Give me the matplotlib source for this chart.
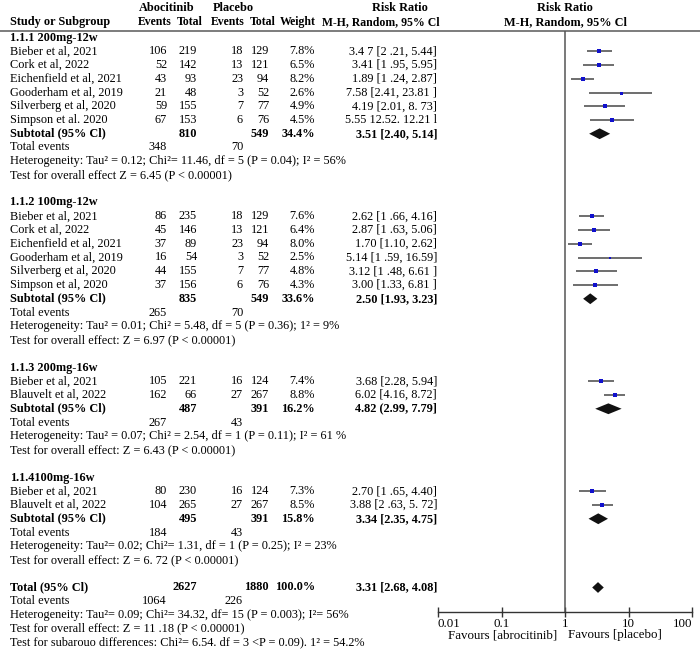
import matplotlib.pyplot as plt
import numpy as np

plt.rcParams['font.family'] = ['Liberation Serif', 'DejaVu Serif']
FS = 8.8

# ---- data ----
group_labels = ["1.1.1 200mg-12w", "1.1.2 100mg-12w", "1.1.3 200mg-16w", "1.1.4100mg-16w"]

g1_names = ["Bieber et al, 2021", "Cork et al, 2022", "Eichenfield et al, 2021",
            "Gooderham et al, 2019", "Silverberg et al, 2020", "Simpson et al. 2020"]
g1_ev_a = [106, 52, 43, 21, 59, 67]
g1_tot_a = [219, 142, 93, 48, 155, 153]
g1_ev_p = [18, 13, 23, 3, 7, 6]
g1_tot_p = [129, 121, 94, 52, 77, 76]
g1_weight = [7.8, 6.5, 8.2, 2.6, 4.9, 4.5]
g1_rr = [3.47, 3.41, 1.89, 7.58, 4.19, 5.55]
g1_lo = [2.21, 1.95, 1.24, 2.41, 2.01, 2.52]
g1_hi = [5.44, 5.95, 2.87, 23.81, 8.73, 12.21]
g1_rr_text = ["3.4 7 [2 .21, 5.44]", "3.41 [1 .95, 5.95]", "1.89 [1 .24, 2.87]",
              "7.58 [2.41, 23.81 ]", "4.19 [2.01, 8. 73]", "5.55 12.52. 12.21 l"]

g2_names = ["Bieber et al, 2021", "Cork et al, 2022", "Eichenfield et al, 2021",
            "Gooderham et al, 2019", "Silverberg et al, 2020", "Simpson et al, 2020"]
g2_ev_a = [86, 45, 37, 16, 44, 37]
g2_tot_a = [235, 146, 89, 54, 155, 156]
g2_ev_p = [18, 13, 23, 3, 7, 6]
g2_tot_p = [129, 121, 94, 52, 77, 76]
g2_weight = [7.6, 6.4, 8.0, 2.5, 4.8, 4.3]
g2_rr = [2.62, 2.87, 1.70, 5.14, 3.12, 3.00]
g2_lo = [1.66, 1.63, 1.10, 1.59, 1.48, 1.33]
g2_hi = [4.16, 5.06, 2.62, 16.59, 6.61, 6.81]
g2_rr_text = ["2.62 [1 .66, 4.16]", "2.87 [1 .63, 5.06]", "1.70 [1.10, 2.62]",
              "5.14 [1 .59, 16.59]", "3.12 [1 .48, 6.61 ]", "3.00 [1.33, 6.81 ]"]

g3_names = ["Bieber et al, 2021", "Blauvelt et al, 2022"]
g3_ev_a = [105, 162]
g3_tot_a = [221, 66]
g3_ev_p = [16, 27]
g3_tot_p = [124, 267]
g3_weight = [7.4, 8.8]
g3_rr = [3.68, 6.02]
g3_lo = [2.28, 4.16]
g3_hi = [5.94, 8.72]
g3_rr_text = ["3.68 [2.28, 5.94]", "6.02 [4.16, 8.72]"]

g4_names = ["Bieber et al, 2021", "Blauvelt et al, 2022"]
g4_ev_a = [80, 104]
g4_tot_a = [230, 265]
g4_ev_p = [16, 27]
g4_tot_p = [124, 267]
g4_weight = [7.3, 8.5]
g4_rr = [2.70, 3.88]
g4_lo = [1.65, 2.63]
g4_hi = [4.40, 5.72]
g4_rr_text = ["2.70 [1 .65, 4.40]", "3.88 [2 .63, 5. 72]"]

sub_tot_a = [810, 835, 487, 495]
sub_tot_p = [549, 549, 391, 391]
sub_weight = ["34.4%", "33.6%", "16.2%", "15.8%"]
sub_rr = [3.51, 2.50, 4.82, 3.34]
sub_lo = [2.40, 1.93, 2.99, 2.35]
sub_hi = [5.14, 3.23, 7.79, 4.75]
sub_rr_text = ["3.51 [2.40, 5.14]", "2.50 [1.93, 3.23]", "4.82 (2.99, 7.79]", "3.34 [2.35, 4.75]"]
sub_ev_a = [348, 265, 267, 184]
sub_ev_p = [70, 70, 43, 43]
het_text = [
    "Heterogeneity: Tau² = 0.12; Chi²= 11.46, df = 5 (P = 0.04); I² = 56%",
    "Heterogeneity: Tau² = 0.01; Chi² = 5.48, df = 5 (P = 0.36); 1² = 9%",
    "Heterogeneity: Tau² = 0.07; Chi² = 2.54, df = 1 (P = 0.11); I² = 61 %",
    "Heterogeneity: Tau²= 0.02; Chi²= 1.31, df = 1 (P = 0.25); I² = 23%",
]
effect_text = [
    "Test for overall effect Z = 6.45 (P < 0.00001)",
    "Test for overall effect: Z = 6.97 (P < 0.00001)",
    "Test for overall effect: Z = 6.43 (P < 0.00001)",
    "Test for overall effect: Z = 6. 72 (P < 0.00001)",
]

total_tot_a, total_tot_p, total_weight = 2627, 1880, "100.0%"
total_rr, total_lo, total_hi = 3.31, 2.68, 4.08
total_rr_text = "3.31 [2.68, 4.08]"
total_ev_a, total_ev_p = 1064, 226
total_lines = [
    "Heterogeneity: Tau²= 0.09; Chi²= 34.32, df= 15 (P = 0.003); I²= 56%",
    "Test for overall effect: Z = 11 .18 (P < 0.00001)",
    "Test for subarouo differences: Chi²= 6.54. df = 3 <P = 0.09). 1² = 54.2%",
]

ticks = [0.01, 0.1, 1, 10, 100]
tick_labels = ["0.01", "0.1", "1", "10", "100"]

groups = [
    (g1_names, g1_ev_a, g1_tot_a, g1_ev_p, g1_tot_p, g1_weight, g1_rr, g1_lo, g1_hi, g1_rr_text),
    (g2_names, g2_ev_a, g2_tot_a, g2_ev_p, g2_tot_p, g2_weight, g2_rr, g2_lo, g2_hi, g2_rr_text),
    (g3_names, g3_ev_a, g3_tot_a, g3_ev_p, g3_tot_p, g3_weight, g3_rr, g3_lo, g3_hi, g3_rr_text),
    (g4_names, g4_ev_a, g4_tot_a, g4_ev_p, g4_tot_p, g4_weight, g4_rr, g4_lo, g4_hi, g4_rr_text),
]

# ---- layout (pixel units) ----
W, H = 700, 651
Y0, ROW = 37.5, 13.75
X_NAME = 10
X_EVA, X_TOTA, X_EVP, X_TOTP, X_W, X_RR = 167, 197, 243, 269, 315, 437
PLOT_L, PLOT_R, PLOT_TOP, PLOT_BOT = 438, 692, 31, 612

fig = plt.figure(figsize=(W / 100, H / 100), dpi=100)
ax = fig.add_axes([0, 0, 1, 1])
ax.set_xlim(0, W)
ax.set_ylim(H, 0)
ax.axis('off')

axf = fig.add_axes([PLOT_L / W, 1 - PLOT_BOT / H, (PLOT_R - PLOT_L) / W, (PLOT_BOT - PLOT_TOP) / H])
axf.set_xscale('log')
axf.set_xlim(0.01, 100)
axf.set_ylim(PLOT_BOT, PLOT_TOP)
axf.patch.set_alpha(0)
for s in ['top', 'left', 'right']:
    axf.spines[s].set_visible(False)
axf.spines['bottom'].set_color('#333333')
axf.spines['bottom'].set_linewidth(1.0)
axf.set_yticks([])
axf.set_xticks(ticks)
axf.set_xticklabels(tick_labels, fontsize=FS + 0.5)
axf.minorticks_off()
axf.tick_params(axis='x', direction='inout', length=7, width=1, color='#333333', pad=1)
lbls = axf.get_xticklabels()
lbls[0].set_ha('left')
lbls[-1].set_ha('right')
axf.axvline(1, color='#555555', lw=1.1)


def txt(x, y, s, ha='left', bold=False, size=FS):
    ax.text(x, y, s, ha=ha, va='center', fontsize=size,
            fontweight='bold' if bold else 'normal', color='black')


def diamond(y, rr, lo, hi, h=5.4):
    axf.fill([lo, rr, hi, rr], [y, y - h, y, y + h], color='#111111', lw=0)


# header
HFS = FS - 0.3
txt(167, 8, "Abocitinib", 'center', True)
txt(233, 8, "Placebo", 'center', True)
txt(400, 8, "Risk Ratio", 'center', True)
txt(565, 8, "Risk Ratio", 'center', True)
txt(X_NAME, 22, "Study or Subgroup", bold=True)
for xc, s in zip([155, 190, 228, 263, 298], ["Events", "Total", "Events", "Total", "Weight"]):
    txt(xc, 22, s, 'center', True, size=HFS)
txt(X_RR + 3, 22, "M-H, Random, 95% Cl", 'right', True, size=HFS)
txt(565, 22, "M-H, Random, 95% Cl", 'center', True)
ax.plot([0, W], [31, 31], color='#666666', lw=1.2)

row = 0
for gi, (names, ev_a, tot_a, ev_p, tot_p, wt, rr, lo, hi, rtxt) in enumerate(groups):
    txt(X_NAME, Y0 + ROW * row, group_labels[gi], bold=True)
    row += 1
    for k in range(len(names)):
        y = Y0 + ROW * row
        txt(X_NAME, y, names[k])
        txt(X_EVA, y, str(ev_a[k]), 'right')
        txt(X_TOTA, y, str(tot_a[k]), 'right')
        txt(X_EVP, y, str(ev_p[k]), 'right')
        txt(X_TOTP, y, str(tot_p[k]), 'right')
        txt(X_W, y, f"{wt[k]:.1f}%", 'right')
        txt(X_RR, y, rtxt[k], 'right')
        axf.plot([lo[k], hi[k]], [y, y], color='#555555', lw=1.2, solid_capstyle='butt')
        axf.plot(rr[k], y, 's', color='#1010cc', ms=1.9 + 0.1 * wt[k], mew=0)
        row += 1
    y = Y0 + ROW * row
    txt(X_NAME, y, "Subtotal (95% Cl)", bold=True)
    txt(X_TOTA, y, str(sub_tot_a[gi]), 'right', True)
    txt(X_TOTP, y, str(sub_tot_p[gi]), 'right', True)
    txt(X_W, y, sub_weight[gi], 'right', True)
    txt(X_RR, y, sub_rr_text[gi], 'right', True)
    diamond(y, sub_rr[gi], sub_lo[gi], sub_hi[gi])
    row += 1
    y = Y0 + ROW * row
    txt(X_NAME, y, "Total events")
    txt(X_EVA, y, str(sub_ev_a[gi]), 'right')
    txt(X_EVP, y, str(sub_ev_p[gi]), 'right')
    row += 1
    txt(X_NAME, Y0 + ROW * row, het_text[gi])
    row += 1
    txt(X_NAME, Y0 + ROW * row, effect_text[gi])
    row += 2

y = Y0 + ROW * row
txt(X_NAME, y, "Total (95% Cl)", bold=True)
txt(X_TOTA, y, str(total_tot_a), 'right', True)
txt(X_TOTP, y, str(total_tot_p), 'right', True)
txt(X_W, y, total_weight, 'right', True)
txt(X_RR, y, total_rr_text, 'right', True)
diamond(y, total_rr, total_lo, total_hi)
row += 1
y = Y0 + ROW * row
txt(X_NAME, y, "Total events")
txt(X_EVA, y, str(total_ev_a), 'right')
txt(X_EVP, y, str(total_ev_p), 'right')
row += 1
for s in total_lines:
    txt(X_NAME, Y0 + ROW * row, s)
    row += 1

txt(557, 635, "Favours [abrocitinib]", 'right', size=FS + 0.5)
txt(568, 635, "Favours [placebo]", 'left', size=FS + 0.5)

fig.savefig("out.png", dpi=100)
